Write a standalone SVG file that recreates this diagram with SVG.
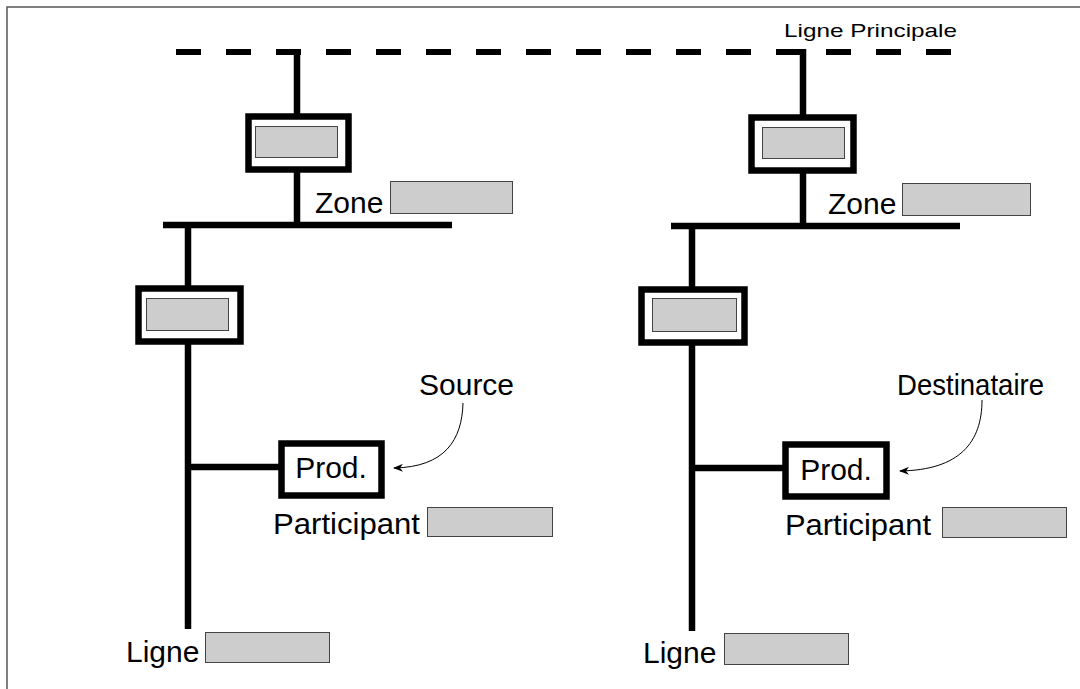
<svg xmlns="http://www.w3.org/2000/svg" width="1080" height="689" viewBox="0 0 1080 689">
<style>
.bus{stroke:#000;stroke-width:6.5;fill:none}
.box{fill:#fff;stroke:#000;stroke-width:6.5}
.gray{fill:#cdcdcd;stroke:#444;stroke-width:1}
.lbl{font-family:"Liberation Sans",Arial,sans-serif;font-size:30px;fill:#000}
.small{font-family:"Liberation Sans",Arial,sans-serif;font-size:19px;fill:#000}
.call{stroke:#000;stroke-width:1;fill:none}
</style>
<defs>
<marker id="arr" markerWidth="10" markerHeight="8" refX="9" refY="4" orient="auto" markerUnits="userSpaceOnUse">
<path d="M0,0 L10,4 L0,8 L3,4 Z" fill="#000"/>
</marker>
</defs>
<rect width="1080" height="689" fill="#fff"/>
<g id="frame">
<path d="M7,689 V7 H1080" stroke="#555" stroke-width="1.5" fill="none"/>
</g>
<g id="connectors">
<line x1="176" y1="52" x2="952" y2="52" stroke="#000" stroke-width="6" stroke-dasharray="25 25"/>
<line class="bus" x1="297" y1="49" x2="297" y2="116"/>
<line class="bus" x1="297" y1="169" x2="297" y2="225"/>
<line class="bus" x1="163" y1="225" x2="452" y2="225"/>
<line class="bus" x1="188" y1="225" x2="188" y2="288"/>
<line class="bus" x1="188" y1="341" x2="188" y2="629"/>
<line class="bus" x1="188" y1="467" x2="281" y2="467"/>
<line class="bus" x1="803" y1="49" x2="803" y2="117"/>
<line class="bus" x1="803" y1="170" x2="803" y2="226"/>
<line class="bus" x1="671" y1="226" x2="960" y2="226"/>
<line class="bus" x1="692" y1="226" x2="692" y2="289"/>
<line class="bus" x1="692" y1="342" x2="692" y2="631"/>
<line class="bus" x1="692" y1="468" x2="785" y2="468"/>
<path class="call" d="M463,403 C462,440 445,467 394,468" marker-end="url(#arr)"/>
<path class="call" d="M982,400 C982,442 960,470 900,471" marker-end="url(#arr)"/>
</g>
<g id="main-label"><text class="small" x="784" y="37" textLength="173" lengthAdjust="spacingAndGlyphs">Ligne Principale</text></g>
<g id="zone-router-left">
<rect class="box" x="248.5" y="116.5" width="100" height="53"/>
<rect class="gray" x="255.5" y="126.5" width="82" height="31"/>
</g>
<g id="zone-label-left">
<text class="lbl" x="315" y="213">Zone</text>
<rect class="gray" x="390.5" y="181.5" width="122" height="32"/>
</g>
<g id="line-router-left">
<rect class="box" x="138.5" y="288.5" width="102" height="53"/>
<rect class="gray" x="146.5" y="298.5" width="82" height="32"/>
</g>
<g id="prod-left">
<rect class="box" x="281.5" y="443.5" width="100" height="52"/>
<text class="lbl" x="331" y="478" text-anchor="middle">Prod.</text>
</g>
<g id="source-label"><text class="lbl" x="419" y="395">Source</text></g>
<g id="participant-left">
<text class="lbl" x="273" y="534" textLength="147" lengthAdjust="spacingAndGlyphs">Participant</text>
<rect class="gray" x="427.5" y="507.5" width="125" height="29"/>
</g>
<g id="ligne-left">
<text class="lbl" x="126" y="662">Ligne</text>
<rect class="gray" x="205.5" y="632.5" width="124" height="30"/>
</g>
<g id="zone-router-right">
<rect class="box" x="751.5" y="117.5" width="102" height="53"/>
<rect class="gray" x="762.5" y="127.5" width="82" height="31"/>
</g>
<g id="zone-label-right">
<text class="lbl" x="828" y="214">Zone</text>
<rect class="gray" x="902.5" y="183.5" width="128" height="32"/>
</g>
<g id="line-router-right">
<rect class="box" x="641.5" y="289.5" width="103" height="53"/>
<rect class="gray" x="652.5" y="298.5" width="84" height="33"/>
</g>
<g id="prod-right">
<rect class="box" x="785.5" y="444.5" width="101" height="52"/>
<text class="lbl" x="836" y="480" text-anchor="middle">Prod.</text>
</g>
<g id="dest-label"><text class="lbl" x="897" y="395" textLength="147" lengthAdjust="spacingAndGlyphs">Destinataire</text></g>
<g id="participant-right">
<text class="lbl" x="785" y="535" textLength="146" lengthAdjust="spacingAndGlyphs">Participant</text>
<rect class="gray" x="942.5" y="507.5" width="124" height="30"/>
</g>
<g id="ligne-right">
<text class="lbl" x="643" y="663">Ligne</text>
<rect class="gray" x="724.5" y="633.5" width="124" height="31"/>
</g>
</svg>
